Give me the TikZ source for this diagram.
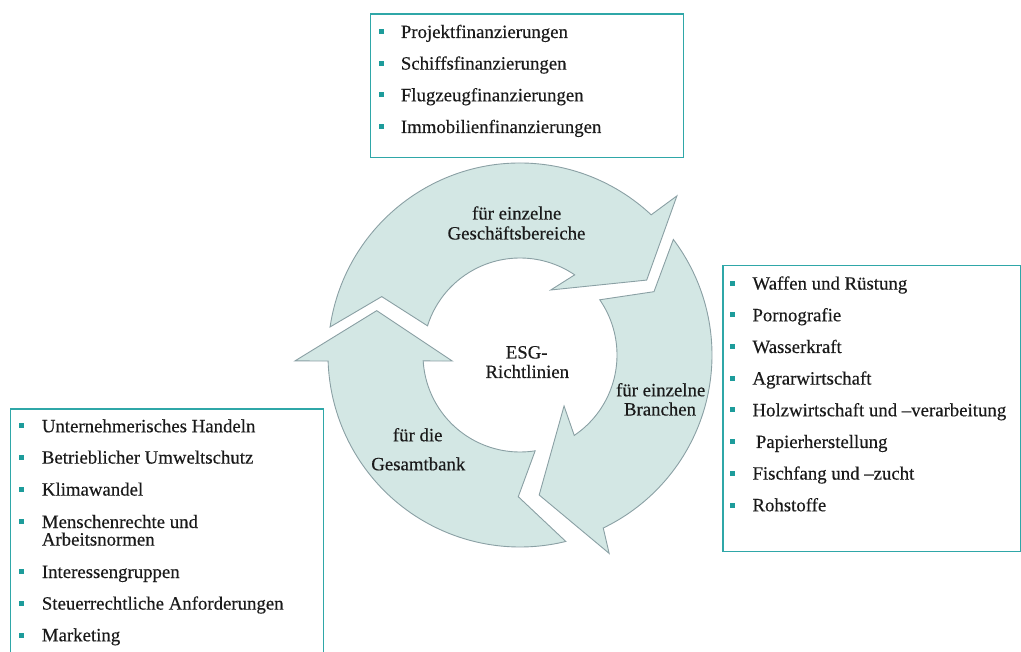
\documentclass[tikz,border=0pt]{standalone}
\usepackage{fontspec}
\setmainfont{Liberation Serif}[FakeBold=0.35]
\definecolor{arrowfill}{HTML}{D3E7E4}
\definecolor{arrowline}{HTML}{8AA0A4}
\definecolor{boxline}{HTML}{2FA7A8}
\definecolor{bulletcol}{HTML}{1D9C9B}
\definecolor{txt}{HTML}{1A1A1A}
\begin{document}
\begin{tikzpicture}[x=1pt,y=1pt,
  cyc/.style={fill=arrowfill, draw=arrowline, line width=0.9pt, line join=miter},
  listbox/.style={draw=boxline, line width=1.3pt, inner sep=0pt, anchor=north west},
  item/.style={anchor=base west, inner sep=0pt, font=\fontsize{18.8}{22}\selectfont, text=txt},
  lab/.style={anchor=base, inner sep=0pt, font=\fontsize{18.8}{22}\selectfont, text=txt},
  bulletsq/.style={fill=bulletcol, minimum width=5pt, minimum height=5pt, inner sep=0pt}]
\useasboundingbox (0,0) rectangle (1021,-652);

% list boxes
\node[listbox, minimum width=313pt, minimum height=143.5pt] (boxTop) at (369.5,-13.5) {};
\node[listbox, minimum width=297.5pt, minimum height=286pt] (boxRight) at (722.3,-265) {};
\node[listbox, minimum width=312.7pt, minimum height=260pt] (boxLeft) at (10,-408.3) {};

% cycle arrows
\begin{scope}[shift={(520,-355)}]
\path[cyc] (171.6:192pt) arc[start angle=171.6, end angle=46.9, radius=192pt]
  -- (45.4:223.5pt) -- (30.6:147.2pt) -- (64.7:71.9pt) -- (55.7:97pt)
  arc[start angle=55.7, end angle=162.5, radius=97pt] -- (157.1:150.1pt) -- cycle;
\path[cyc] (37:192pt) arc[start angle=37, end angle=-64.3, radius=192pt]
  -- (-65.8:217.5pt) -- (-82.2:141.3pt) -- (-49.2:67.4pt) -- (-56:97pt)
  arc[start angle=-56, end angle=34.7, radius=97pt] -- (25.3:148.2pt) -- cycle;
\path[cyc] (-76.2:192pt) arc[start angle=-76.2, end angle=-178.2, radius=192pt]
  -- (-178.5:225.1pt) -- (-197.2:150pt) -- (-174.9:68pt) -- (-176.5:97pt)
  arc[start angle=-176.5, end angle=-81, radius=97pt] -- (-90.7:141.7pt) -- cycle;
\end{scope}

% cycle labels
\node[lab] (l1a) at (516.7,-219.5) {für einzelne};
\node[lab] (l1b) at (516.5,-239.5) {Geschäftsbereiche};
\node[lab] (l2a) at (526.7,-358.5) {ESG-};
\node[lab] (l2b) at (527.3,-378) {Richtlinien};
\node[lab] (l3a) at (660.7,-396.3) {für einzelne};
\node[lab] (l3b) at (660,-415.5) {Branchen};
\node[lab] (l4a) at (417.7,-441.3) {für die};
\node[lab] (l4b) at (418.3,-470.3) {Gesamtbank};

% top list
\foreach \n/\y/\t in {1/31.7/Projektfinanzierungen, 2/63.3/Schiffsfinanzierungen,
  3/95/Flugzeugfinanzierungen, 4/126.7/Immobilienfinanzierungen}{
  \node[bulletsq] (tb\n) at (381.7,-\y) {};
  \node[item] (tt\n) at (400.7,-\y-6.3) {\t};
}

% right list
\foreach \n/\y/\x/\t in {1/283.3/752.3/Waffen und Rüstung, 2/315/752.3/Pornografie,
  3/346.7/752.3/Wasserkraft, 4/378.3/752.3/Agrarwirtschaft,
  5/410/752.3/Holzwirtschaft und –verarbeitung, 6/441.7/755.7/Papierherstellung,
  7/473.3/752.3/Fischfang und –zucht, 8/505/752.3/Rohstoffe}{
  \node[bulletsq] (rb\n) at (732.7,-\y) {};
  \node[item] (rt\n) at (\x,-\y-6.3) {\t};
}

% left list
\foreach \n/\y/\t in {1/426/Unternehmerisches Handeln, 2/457.3/Betrieblicher Umweltschutz,
  3/489.3/Klimawandel, 4/521.7/Menschenrechte und, 6/571.7/Interessengruppen,
  7/603.3/Steuerrechtliche Anforderungen, 8/635/Marketing}{
  \node[bulletsq] (lb\n) at (21.7,-\y) {};
  \node[item] (lt\n) at (41.7,-\y-6.3) {\t};
}
\node[item] (lt5) at (41.7,-545.6) {Arbeitsnormen};
\end{tikzpicture}
\end{document}
